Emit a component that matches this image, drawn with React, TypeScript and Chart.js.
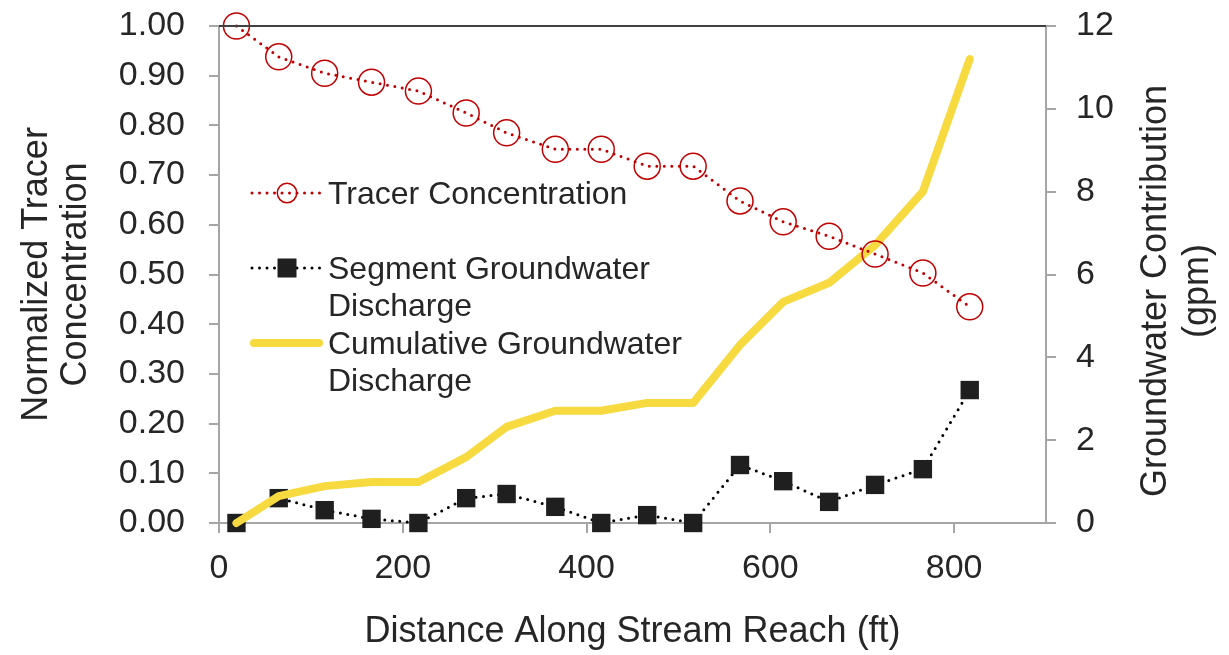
import React, { useEffect, useRef } from 'react';
import { Chart, registerables } from 'chart.js';

Chart.register(...registerables);

// ---- data ----
const distanceFt = [19, 65, 115, 166, 217, 269, 313, 366, 416, 466, 516, 567, 614, 664, 714, 766, 817];
const tracerConcentration = [1.0, 0.938, 0.905, 0.887, 0.869, 0.825, 0.785, 0.752, 0.752, 0.718, 0.718, 0.648, 0.606, 0.577, 0.541, 0.503, 0.435];
const segmentDischarge = [0, 0.6, 0.31, 0.1, 0, 0.6, 0.7, 0.39, 0, 0.19, 0, 1.4, 1.01, 0.51, 0.92, 1.3, 3.21];
const cumulativeDischarge = [0, 0.65, 0.89, 0.99, 0.99, 1.59, 2.32, 2.71, 2.71, 2.9, 2.9, 4.3, 5.34, 5.8, 6.71, 8.0, 11.2];

const xAxisMax = 900;
const xTickStep = 200;
const xLastTick = 800;
const leftAxisMax = 1.0;
const leftTickStep = 0.1;
const rightAxisMax = 12;
const rightTickStep = 2;

const xTitle = 'Distance Along Stream Reach (ft)';
const leftTitle = ['Normalized Tracer', 'Concentration'];
const rightTitle = ['Groundwater Contribution', '(gpm)'];
const legendTracer = ['Tracer Concentration'];
const legendSegment = ['Segment Groundwater', 'Discharge'];
const legendCumulative = ['Cumulative Groundwater', 'Discharge'];

const FONT = "'Liberation Sans', Arial, sans-serif";
const TEXT = '#262626';
const RED = '#C00000';
const BLACK = '#1f1f1f';
const YELLOW = '#F7D940';
const AXIS = '#a6a6a6';

const pts = (ys: number[]) => distanceFt.map((x, i) => ({ x, y: ys[i] }));

const decorPlugin = {
  id: 'decor',
  afterDraw(chart: any) {
    const ctx = chart.ctx as CanvasRenderingContext2D;
    const a = chart.chartArea;
    ctx.save();
    // top border of plot area
    ctx.strokeStyle = '#404040';
    ctx.lineWidth = 2;
    ctx.beginPath();
    ctx.moveTo(a.left, a.top);
    ctx.lineTo(a.right, a.top);
    ctx.stroke();

    // right axis title (reads bottom to top)
    const tfs = 36;
    ctx.fillStyle = TEXT;
    ctx.font = `${tfs}px ${FONT}`;
    ctx.textAlign = 'center';
    ctx.textBaseline = 'alphabetic';
    const rcx = [1153, 1195];
    rightTitle.forEach((t, i) => {
      ctx.save();
      ctx.translate(rcx[i] + 0.358 * tfs, 291);
      ctx.rotate(-Math.PI / 2);
      ctx.fillText(t, 0, 0);
      ctx.restore();
    });

    // legend
    const lfs = 32;
    ctx.font = `${lfs}px ${FONT}`;
    ctx.textAlign = 'left';
    const tx = 328;
    const lx0 = 250;
    const lx1 = 323;
    const mx = 287;
    const drawText = (lines: string[], y0: number) => {
      lines.forEach((t, i) => ctx.fillText(t, tx, y0 + i * 37 + 0.358 * lfs));
    };
    const dotted = (y: number, color: string) => {
      ctx.save();
      ctx.strokeStyle = color;
      ctx.lineWidth = 3;
      ctx.lineCap = 'round';
      ctx.setLineDash([0, 7.5]);
      ctx.beginPath();
      ctx.moveTo(lx0 + 2, y);
      ctx.lineTo(lx1, y);
      ctx.stroke();
      ctx.restore();
    };
    // tracer
    dotted(193, RED);
    ctx.strokeStyle = RED;
    ctx.lineWidth = 1.5;
    ctx.beginPath();
    ctx.arc(mx, 193, 9.7, 0, Math.PI * 2);
    ctx.stroke();
    ctx.fillStyle = TEXT;
    drawText(legendTracer, 193);
    // segment
    dotted(268, '#000');
    ctx.fillStyle = BLACK;
    ctx.fillRect(mx - 9.5, 268 - 9.5, 19, 19);
    ctx.fillStyle = TEXT;
    drawText(legendSegment, 268);
    // cumulative
    ctx.save();
    ctx.strokeStyle = YELLOW;
    ctx.lineWidth = 8;
    ctx.lineCap = 'round';
    ctx.beginPath();
    ctx.moveTo(lx0 + 4, 343);
    ctx.lineTo(lx1 - 4, 343);
    ctx.stroke();
    ctx.restore();
    ctx.fillStyle = TEXT;
    drawText(legendCumulative, 343);
    ctx.restore();
  },
};

const noPad = (s: any) => {
  s.paddingTop = 0;
  s.paddingBottom = 0;
  s.paddingLeft = 0;
  s.paddingRight = 0;
};

export default function App() {
  const ref = useRef<HTMLCanvasElement | null>(null);

  useEffect(() => {
    if (!ref.current) return;
    Chart.defaults.font.family = FONT;
    const chart = new Chart(ref.current, {
      type: 'line',
      data: {
        datasets: [
          {
            label: 'Tracer Concentration',
            data: pts(tracerConcentration),
            yAxisID: 'y',
            borderColor: RED,
            borderWidth: 3,
            borderDash: [0, 7.5],
            borderCapStyle: 'round',
            pointStyle: 'circle',
            pointRadius: 13,
            pointBorderWidth: 1.5,
            pointBorderColor: RED,
            pointBackgroundColor: 'rgba(0,0,0,0)',
            tension: 0,
            clip: false,
          } as any,
          {
            label: 'Cumulative Groundwater Discharge',
            data: pts(cumulativeDischarge),
            yAxisID: 'y1',
            borderColor: YELLOW,
            borderWidth: 8,
            borderCapStyle: 'round',
            borderJoinStyle: 'round',
            pointRadius: 0,
            tension: 0,
            clip: false,
          } as any,
          {
            label: 'Segment Groundwater Discharge',
            data: pts(segmentDischarge),
            yAxisID: 'y1',
            borderColor: '#000',
            borderWidth: 3,
            borderDash: [0, 7.5],
            borderCapStyle: 'round',
            pointStyle: 'rect',
            pointRadius: 13,
            pointBorderWidth: 0,
            pointBorderColor: BLACK,
            pointBackgroundColor: BLACK,
            tension: 0,
            clip: false,
          } as any,
        ],
      },
      options: {
        animation: false,
        responsive: false,
        devicePixelRatio: 1,
        layout: { padding: { top: 26, left: 0, right: 0, bottom: 0 } },
        plugins: { legend: { display: false }, tooltip: { enabled: false } },
        scales: {
          x: {
            type: 'linear',
            min: 0,
            max: xAxisMax,
            bounds: 'data',
            ticks: { stepSize: xTickStep, font: { size: 34 }, color: TEXT, padding: 15 },
            grid: { display: true, drawOnChartArea: false, drawTicks: true, tickLength: 10, color: AXIS, lineWidth: 2 },
            border: { display: true, color: AXIS, width: 2 },
            title: { display: true, text: xTitle, font: { size: 36, lineHeight: 1.2 }, color: TEXT, padding: { top: 0, bottom: 1 } },
            afterBuildTicks: (s: any) => { s.ticks = s.ticks.filter((t: any) => t.value <= xLastTick); },
            afterFit: (s: any) => { s.height = 132; noPad(s); },
          },
          y: {
            type: 'linear',
            position: 'left',
            min: 0,
            max: leftAxisMax,
            ticks: { stepSize: leftTickStep, font: { size: 34 }, color: TEXT, padding: 24, callback: (v: any) => Number(v).toFixed(2) },
            grid: { display: true, drawOnChartArea: false, drawTicks: true, tickLength: 10, color: AXIS, lineWidth: 2 },
            border: { display: true, color: AXIS, width: 2 },
            title: { display: true, text: leftTitle, font: { size: 36, lineHeight: 1.08 }, color: TEXT, padding: { top: 18, bottom: 0 } },
            afterFit: (s: any) => { s.width = 219; noPad(s); },
          },
          y1: {
            type: 'linear',
            position: 'right',
            min: 0,
            max: rightAxisMax,
            ticks: { stepSize: rightTickStep, font: { size: 34 }, color: TEXT, padding: 20 },
            grid: { display: true, drawOnChartArea: false, drawTicks: true, tickLength: 10, color: AXIS, lineWidth: 2 },
            border: { display: true, color: AXIS, width: 2 },
            title: { display: false },
            afterFit: (s: any) => { s.width = 183; noPad(s); },
          },
        },
      } as any,
      plugins: [decorPlugin],
    });
    return () => chart.destroy();
  }, []);

  return (
    <div style={{ position: 'absolute', left: 0, top: 0, width: 1229, height: 655, background: '#fff' }}>
      <canvas ref={ref} width={1229} height={655} style={{ display: 'block' }} />
    </div>
  );
}
